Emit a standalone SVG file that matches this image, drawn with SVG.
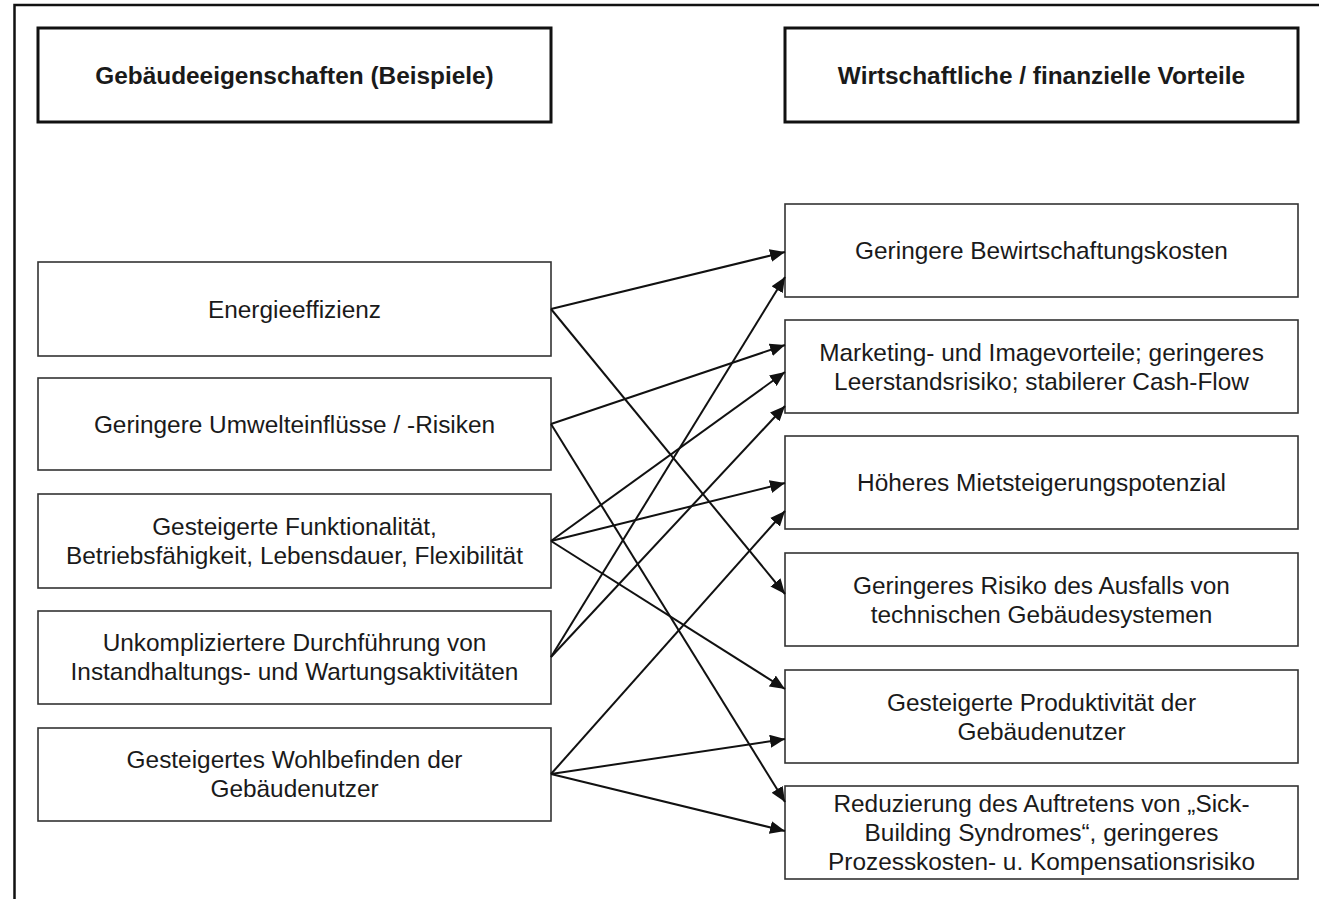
<svg xmlns="http://www.w3.org/2000/svg" width="1319" height="899" viewBox="0 0 1319 899">
<style>
.frame{fill:none;stroke:#111;stroke-width:2.5}
.hdr{fill:#fff;stroke:#111;stroke-width:3}
.box{fill:#fff;stroke:#333;stroke-width:1.6}
.t{font-family:"Liberation Sans",Arial,sans-serif;font-size:24.4px;fill:#1a1a1a;text-anchor:middle}
.b{font-weight:bold}
.c{stroke:#111;stroke-width:2;fill:none;marker-end:url(#ah)}
</style>
<defs>
<marker id="ah" markerWidth="15" markerHeight="13" refX="15" refY="6.5" orient="auto" markerUnits="userSpaceOnUse">
<path d="M0,0 L15,6.5 L0,13 z" fill="#111"/>
</marker>
</defs>
<rect width="1319" height="899" fill="#fff"/>
<path class="frame" d="M14.5,899 L14.5,5 L1319,5"/>

<g id="hdr-left">
<rect class="hdr" x="38" y="28" width="513" height="94"/>
<text class="t b" x="294.5" y="83.5">Gebäudeeigenschaften (Beispiele)</text>
</g>
<g id="hdr-right">
<rect class="hdr" x="785" y="28" width="513" height="94"/>
<text class="t b" x="1041.5" y="83.5">Wirtschaftliche / finanzielle Vorteile</text>
</g>

<g id="L1">
<rect class="box" x="38" y="262" width="513" height="94"/>
<text class="t" x="294.5" y="317.5">Energieeffizienz</text>
</g>
<g id="L2">
<rect class="box" x="38" y="378" width="513" height="92"/>
<text class="t" x="294.5" y="432.5">Geringere Umwelteinflüsse / -Risiken</text>
</g>
<g id="L3">
<rect class="box" x="38" y="494" width="513" height="94"/>
<text class="t" x="294.5" y="535">Gesteigerte Funktionalität,</text>
<text class="t" x="294.5" y="564">Betriebsfähigkeit, Lebensdauer, Flexibilität</text>
</g>
<g id="L4">
<rect class="box" x="38" y="611" width="513" height="93"/>
<text class="t" x="294.5" y="651">Unkompliziertere Durchführung von</text>
<text class="t" x="294.5" y="680">Instandhaltungs- und Wartungsaktivitäten</text>
</g>
<g id="L5">
<rect class="box" x="38" y="728" width="513" height="93"/>
<text class="t" x="294.5" y="768">Gesteigertes Wohlbefinden der</text>
<text class="t" x="294.5" y="797">Gebäudenutzer</text>
</g>

<g id="R1">
<rect class="box" x="785" y="204" width="513" height="93"/>
<text class="t" x="1041.5" y="259">Geringere Bewirtschaftungskosten</text>
</g>
<g id="R2">
<rect class="box" x="785" y="320" width="513" height="93"/>
<text class="t" x="1041.5" y="360.5">Marketing- und Imagevorteile; geringeres</text>
<text class="t" x="1041.5" y="389.5">Leerstandsrisiko; stabilerer Cash-Flow</text>
</g>
<g id="R3">
<rect class="box" x="785" y="436" width="513" height="93"/>
<text class="t" x="1041.5" y="491">Höheres Mietsteigerungspotenzial</text>
</g>
<g id="R4">
<rect class="box" x="785" y="553" width="513" height="93"/>
<text class="t" x="1041.5" y="593.5">Geringeres Risiko des Ausfalls von</text>
<text class="t" x="1041.5" y="622.5">technischen Gebäudesystemen</text>
</g>
<g id="R5">
<rect class="box" x="785" y="670" width="513" height="93"/>
<text class="t" x="1041.5" y="710.5">Gesteigerte Produktivität der</text>
<text class="t" x="1041.5" y="739.5">Gebäudenutzer</text>
</g>
<g id="R6">
<rect class="box" x="785" y="786" width="513" height="93"/>
<text class="t" x="1041.5" y="812">Reduzierung des Auftretens von „Sick-</text>
<text class="t" x="1041.5" y="841">Building Syndromes“, geringeres</text>
<text class="t" x="1041.5" y="870">Prozesskosten- u. Kompensationsrisiko</text>
</g>

<g id="connectors">
<line class="c" x1="551" y1="309" x2="785" y2="252"/>
<line class="c" x1="551" y1="309" x2="785" y2="594"/>
<line class="c" x1="551" y1="424" x2="785" y2="345"/>
<line class="c" x1="551" y1="424" x2="785" y2="802"/>
<line class="c" x1="551" y1="541" x2="785" y2="372"/>
<line class="c" x1="551" y1="541" x2="785" y2="483"/>
<line class="c" x1="551" y1="541" x2="785" y2="689"/>
<line class="c" x1="551" y1="657" x2="785" y2="277"/>
<line class="c" x1="551" y1="657" x2="785" y2="406"/>
<line class="c" x1="551" y1="774" x2="785" y2="511"/>
<line class="c" x1="551" y1="774" x2="785" y2="739"/>
<line class="c" x1="551" y1="774" x2="785" y2="831"/>
</g>
</svg>
